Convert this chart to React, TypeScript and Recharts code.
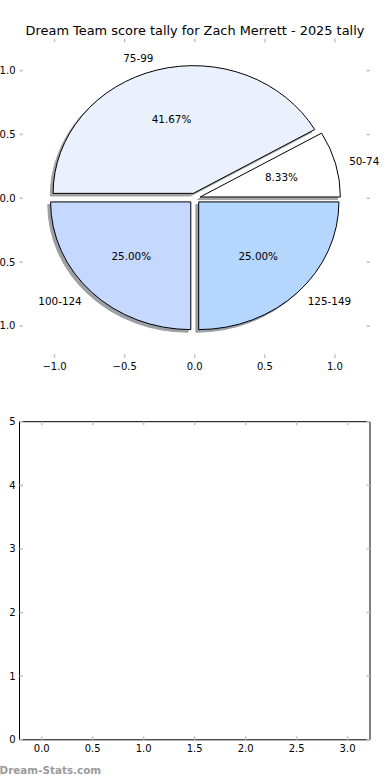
import React from 'react';
import { PieChart, Pie, ScatterChart, Scatter, XAxis, YAxis } from 'recharts';

const chartTitle = 'Dream Team score tally for Zach Merrett - 2025 tally';
const bands = ['50-74', '75-99', '100-124', '125-149'];
const counts = [1, 5, 3, 3];
const wedgeColors = ['#ffffff', '#eaf1fd', '#c5d8ff', '#b4d6ff'];
const pieTicks = [-1, -0.5, 0, 0.5, 1];
const emptyXTicks = [0, 0.5, 1, 1.5, 2, 2.5, 3];
const emptyYTicks = [0, 1, 2, 3, 4, 5];
// the second subplot has nothing plotted in it
const emptyPoints: { x: number; y: number }[] = [];

const FONT = '"DejaVu Sans", sans-serif';
const TICK_GREY = '#c2c2c2';
const EXPLODE = 0.04;
const RX = 140.2;
const RY = 127.7;
const KY = RY / RX;

const pieData = bands.map((name, i) => ({ name, value: counts[i] }));

// matplotlib style numbers: one decimal, unicode minus
const fmt1 = (v: number) => (v < 0 ? '\u2212' : '') + Math.abs(v).toFixed(1);
const fmt0 = (v: number) => String(v);

// elliptical wedge path (the pie isn't drawn with equal aspect)
const wedgePath = (x: number, y: number, rx: number, ry: number, a0: number, a1: number) => {
  const r0 = (a0 * Math.PI) / 180;
  const r1 = (a1 * Math.PI) / 180;
  const sx = x + rx * Math.cos(r0);
  const sy = y - ry * Math.sin(r0);
  const ex = x + rx * Math.cos(r1);
  const ey = y - ry * Math.sin(r1);
  const large = a1 - a0 > 180 ? 1 : 0;
  return `M${x},${y} L${sx},${sy} A${rx},${ry} 0 ${large} 0 ${ex},${ey} Z`;
};

const wedgeOrigin = (p: any) => {
  const mid = (((p.startAngle + p.endAngle) / 2) * Math.PI) / 180;
  const rx = p.outerRadius;
  const ry = p.outerRadius * KY;
  return {
    mid,
    rx,
    ry,
    ox: p.cx + EXPLODE * rx * Math.cos(mid),
    oy: p.cy - EXPLODE * ry * Math.sin(mid),
  };
};

const renderShadow = (p: any) => {
  const { rx, ry, ox, oy } = wedgeOrigin(p);
  const c = wedgeColors[p.index];
  const dark = `rgb(${[1, 3, 5].map((k) => Math.round(parseInt(c.slice(k, k + 2), 16) * 0.3)).join(',')})`;
  return (
    <path
      d={wedgePath(ox - 2.8, oy + 2.6, rx, ry, p.startAngle, p.endAngle)}
      fill={dark}
      stroke={dark}
      strokeWidth={1}
      opacity={0.5}
    />
  );
};

const renderWedge = (p: any) => {
  const { mid, rx, ry, ox, oy } = wedgeOrigin(p);
  const cos = Math.cos(mid);
  const sin = Math.sin(mid);
  return (
    <g>
      <path
        d={wedgePath(ox, oy, rx, ry, p.startAngle, p.endAngle)}
        fill={wedgeColors[p.index]}
        stroke="#000"
        strokeWidth={1}
      />
      <text
        x={ox + 1.1 * rx * cos}
        y={oy - 1.1 * ry * sin}
        textAnchor={cos < 0 ? 'end' : 'start'}
        dominantBaseline="central"
        fontSize={10.4}
        fontFamily={FONT}
        fill="#000"
      >
        {p.name}
      </text>
      <text
        x={ox + 0.6 * rx * cos}
        y={oy - 0.6 * ry * sin}
        textAnchor="middle"
        dominantBaseline="central"
        fontSize={10.4}
        fontFamily={FONT}
        fill="#000"
      >
        {(p.percent * 100).toFixed(2) + '%'}
      </text>
    </g>
  );
};

// inward tick marks, labels outside (classic matplotlib look)
const BottomTick = ({ x, y, payload, format }: any) => (
  <g>
    <line x1={x} y1={y} x2={x} y2={y - 3.5} stroke={TICK_GREY} strokeWidth={1.5} />
    {format && (
      <text x={x} y={y + 8.5} textAnchor="middle" dominantBaseline="central" fontSize={10} fontFamily={FONT} fill="#000">
        {format(payload.value)}
      </text>
    )}
  </g>
);

const TopTick = ({ x, y }: any) => (
  <line x1={x} y1={y} x2={x} y2={y + 3.5} stroke={TICK_GREY} strokeWidth={1.5} />
);

const LeftTick = ({ x, y, payload, format }: any) => (
  <g>
    <line x1={x} y1={y} x2={x + 3.5} y2={y} stroke={TICK_GREY} strokeWidth={1.5} />
    <text x={x - 4} y={y} textAnchor="end" dominantBaseline="central" fontSize={10} fontFamily={FONT} fill="#000">
      {format(payload.value)}
    </text>
  </g>
);

const RightTick = ({ x, y }: any) => (
  <line x1={x} y1={y} x2={x - 3.5} y2={y} stroke={TICK_GREY} strokeWidth={1.5} />
);

const axisBase = {
  type: 'number' as const,
  allowDataOverflow: true,
  tickLine: false,
  tickSize: 0,
  tickMargin: 0,
  interval: 0 as const,
};

const App: React.FC = () => {
  return (
    <div style={{ position: 'absolute', left: 0, top: 0, width: 390, height: 780, background: '#fff', overflow: 'hidden' }}>
      {/* pie axes (no spines, only the little tick marks) */}
      <div style={{ position: 'absolute', left: 0, top: 0 }}>
        <ScatterChart width={390} height={380} margin={{ top: 37.7, right: 19, bottom: 21.1, left: 18.5 }}>
          <XAxis {...axisBase} xAxisId="b" dataKey="x" domain={[-1.25, 1.25]} ticks={pieTicks} height={1} axisLine={false}
            tick={(p: any) => <BottomTick {...p} format={fmt1} />} />
          <XAxis {...axisBase} xAxisId="t" orientation="top" dataKey="x" domain={[-1.25, 1.25]} ticks={pieTicks} height={1} axisLine={false}
            tick={(p: any) => <TopTick {...p} />} />
          <YAxis {...axisBase} yAxisId="l" dataKey="y" domain={[-1.25, 1.25]} ticks={pieTicks} width={1} axisLine={false}
            tick={(p: any) => <LeftTick {...p} format={fmt1} />} />
          <YAxis {...axisBase} yAxisId="r" orientation="right" dataKey="y" domain={[-1.25, 1.25]} ticks={pieTicks} width={1} axisLine={false}
            tick={(p: any) => <RightTick {...p} />} />
          <Scatter data={emptyPoints} xAxisId="b" yAxisId="l" isAnimationActive={false} />
          <Scatter data={emptyPoints} xAxisId="t" yAxisId="r" isAnimationActive={false} />
        </ScatterChart>
      </div>
      {/* the pie itself: first pass shadows, second pass wedges + texts */}
      <div style={{ position: 'absolute', left: 0, top: 0 }}>
        <PieChart width={390} height={380} margin={{ top: 0, right: 0, bottom: 0, left: 0 }}>
          <Pie data={pieData} dataKey="value" nameKey="name" cx={194.75} cy={198.3} outerRadius={RX}
            startAngle={0} endAngle={360} fill="none" stroke="none" labelLine={false}
            label={renderShadow} isAnimationActive={false} />
          <Pie data={pieData} dataKey="value" nameKey="name" cx={194.75} cy={198.3} outerRadius={RX}
            startAngle={0} endAngle={360} fill="none" stroke="none" labelLine={false}
            label={renderWedge} isAnimationActive={false} />
        </PieChart>
      </div>
      {/* empty second subplot */}
      <div style={{ position: 'absolute', left: 0, top: 380 }}>
        <ScatterChart width={390} height={400} margin={{ top: 40.7, right: 19, bottom: 39.2, left: 18.5 }}>
          <XAxis {...axisBase} xAxisId="b" dataKey="x" domain={[-0.218, 3.22]} ticks={emptyXTicks} height={1}
            axisLine={{ stroke: '#000', strokeWidth: 1 }} tick={(p: any) => <BottomTick {...p} format={fmt1} />} />
          <XAxis {...axisBase} xAxisId="t" orientation="top" dataKey="x" domain={[-0.218, 3.22]} ticks={emptyXTicks} height={1}
            axisLine={{ stroke: '#000', strokeWidth: 1 }} tick={(p: any) => <TopTick {...p} />} />
          <YAxis {...axisBase} yAxisId="l" dataKey="y" domain={[0, 5]} ticks={emptyYTicks} width={1}
            axisLine={{ stroke: '#000', strokeWidth: 1 }} tick={(p: any) => <LeftTick {...p} format={fmt0} />} />
          <YAxis {...axisBase} yAxisId="r" orientation="right" dataKey="y" domain={[0, 5]} ticks={emptyYTicks} width={1}
            axisLine={{ stroke: '#000', strokeWidth: 1 }} tick={(p: any) => <RightTick {...p} />} />
          <Scatter data={emptyPoints} xAxisId="b" yAxisId="l" isAnimationActive={false} />
          <Scatter data={emptyPoints} xAxisId="t" yAxisId="r" isAnimationActive={false} />
        </ScatterChart>
      </div>
      {/* title and watermark */}
      <svg width={390} height={780} style={{ position: 'absolute', left: 0, top: 0, pointerEvents: 'none' }}>
        <text x={195} y={30} textAnchor="middle" dominantBaseline="central" fontSize={12.9} fontFamily={FONT} fill="#000">
          {chartTitle}
        </text>
        <text x={-0.5} y={770} dominantBaseline="central" fontSize={10.4} fontWeight="bold" fontFamily={FONT} fill="#9a9a9a">
          Dream-Stats.com
        </text>
      </svg>
    </div>
  );
};

export default App;
